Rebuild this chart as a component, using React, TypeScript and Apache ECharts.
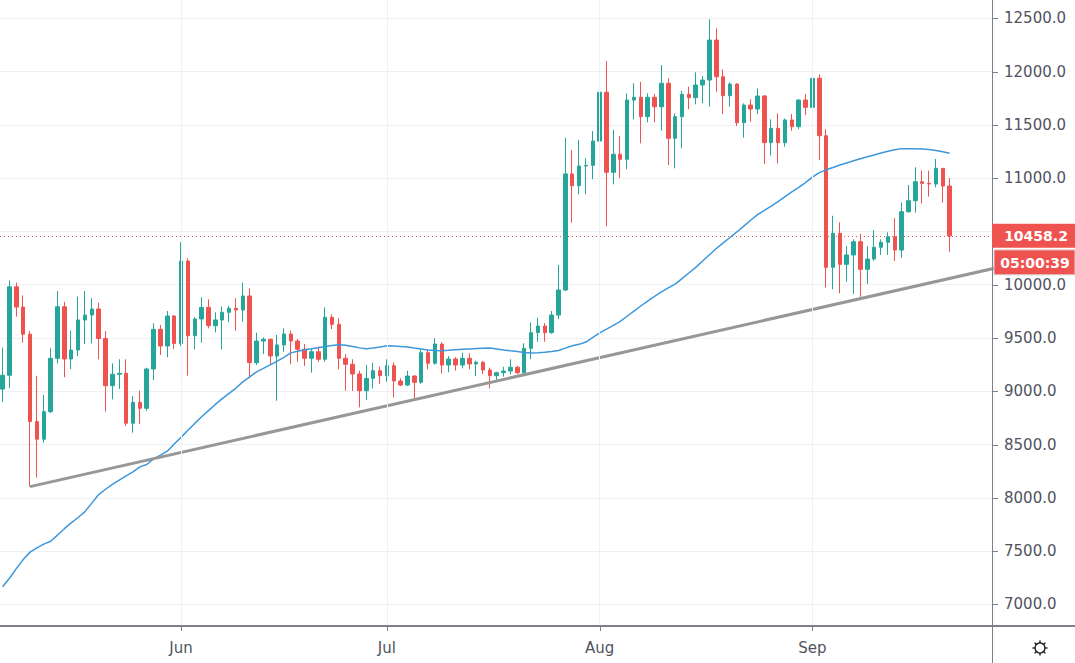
import React, { useEffect, useRef } from 'react';
import * as echarts from 'echarts';

// Daily BTC/USD candles, 6 May 2020 – 21 Sep 2020 (one entry per day).
const startDateUTC = Date.UTC(2020, 4, 6);
const firstOpen = 9020;

const closes = [
  9150, 9980, 9790, 9535, 8715, 8550, 8808, 9309, 9793, 9303,
  9387, 9669, 9715, 9772, 9495, 9052, 9159, 9168, 8700, 8896,
  8840, 9209, 9581, 9425, 9706, 9448, 10222, 9521, 9678, 9787,
  9615, 9669, 9741, 9778, 9762, 9894, 9268, 9471, 9487, 9331,
  9434, 9537, 9471, 9394, 9309, 9371, 9300, 9694, 9628, 9309,
  9253, 9162, 9005, 9121, 9193, 9146, 9240, 9096, 9058, 9143,
  9084, 9362, 9262, 9443, 9246, 9302, 9246, 9309, 9256, 9272,
  9199, 9146, 9174, 9190, 9225, 9174, 9403, 9550, 9612, 9550,
  9715, 9950, 11040, 10929, 11114, 11120, 11348, 11806, 11055, 11224,
  11177, 11733, 11759, 11577, 11759, 11670, 11890, 11374, 11577, 11787,
  11755, 11874, 11921, 12296, 11952, 11774, 11883, 11520, 11686, 11649,
  11771, 11333, 11468, 11333, 11546, 11483, 11733, 11665, 11937, 11398,
  10163, 10482, 10191, 10279, 10403, 10144, 10241, 10351, 10398, 10450,
  10325, 10685, 10788, 10966, 10951, 10945, 11092, 10926, 10458.2,
];

const lows = [
  8900, 9030, 9700, 9456, 8105, 8190, 8517, 8796, 9262, 9131,
  9209, 9330, 9443, 9450, 9300, 8808, 8924, 9021, 8674, 8611,
  8692, 8817, 9105, 9340, 9318, 9396, 9424, 9146, 9394, 9456,
  9590, 9553, 9394, 9647, 9568, 9653, 9121, 9246, 9350, 9256,
  8911, 9371, 9253, 9277, 9237, 9174, 9277, 9277, 9584, 9206,
  9005, 9002, 8849, 8918, 9027, 9068, 9090, 8943, 9050, 9050,
  8934, 9070, 9206, 9250, 9168, 9178, 9193, 9215, 9206, 9143,
  9162, 9027, 9105, 9137, 9159, 9160, 9160, 9300, 9465, 9465,
  9540, 9675, 9940, 10582, 10848, 10848, 10989, 11224, 10548, 10942,
  11000, 11083, 11552, 11327, 11524, 11524, 11445, 11123, 11092, 11280,
  11646, 11693, 11702, 11670, 11811, 11602, 11670, 11489, 11380, 11530,
  11602, 11133, 11211, 11139, 11295, 11445, 11460, 11592, 11552, 11170,
  9975, 9957, 9919, 10028, 9913, 9887, 10006, 10225, 10279, 10279,
  10222, 10253, 10676, 10676, 10764, 10826, 10914, 10770, 10309,
];

const highs = [
  9410, 10040, 10020, 9900, 9565, 9145, 8965, 9403, 9941, 9840,
  9568, 9887, 9941, 9872, 9831, 9565, 9262, 9300, 9300, 8955,
  9005, 9221, 9638, 9622, 9753, 9715, 10398, 10248, 9694, 9882,
  9863, 9741, 9793, 9800, 9872, 10019, 9966, 9549, 9506, 9495,
  9528, 9591, 9568, 9490, 9443, 9403, 9420, 9787, 9722, 9684,
  9347, 9300, 9193, 9246, 9268, 9230, 9300, 9272, 9121, 9193,
  9150, 9394, 9387, 9497, 9460, 9331, 9320, 9362, 9356, 9287,
  9284, 9221, 9184, 9230, 9300, 9240, 9450, 9645, 9690, 9640,
  9753, 10185, 11379, 11264, 11358, 11186, 11442, 11843, 12099, 11452,
  11395, 11796, 11890, 11905, 11796, 11790, 12062, 11937, 11608, 11821,
  11858, 11993, 11960, 12491, 12406, 12021, 11899, 11890, 11702, 11740,
  11843, 11780, 11552, 11608, 11560, 11602, 11740, 11790, 12068, 11974,
  11458, 10647, 10585, 10363, 10426, 10476, 10363, 10513, 10426, 10492,
  10623, 10770, 10936, 11102, 11070, 11070, 11180, 11092, 11000,
];

// 50-day simple moving average of the close
const sma50 = [
  7165, 7245, 7335, 7420, 7490, 7530, 7565, 7592, 7650, 7710,
  7765, 7815, 7870, 7950, 8030, 8080, 8125, 8165, 8205, 8243,
  8290, 8312, 8365, 8400, 8437, 8505, 8567, 8633, 8698, 8760,
  8818, 8876, 8930, 8980, 9030, 9088, 9134, 9182, 9215, 9247,
  9282, 9317, 9360, 9376, 9389, 9398, 9408, 9419, 9430, 9437,
  9431, 9420, 9407, 9398, 9405, 9415, 9427, 9424, 9419, 9415,
  9405, 9396, 9387, 9382, 9381, 9385, 9390, 9394, 9397, 9400,
  9403, 9405, 9397, 9388, 9380, 9373, 9364, 9359, 9361, 9367,
  9374, 9383, 9405, 9427, 9440, 9462, 9505, 9548, 9583, 9619,
  9656, 9704, 9752, 9800, 9845, 9891, 9933, 9970, 10006, 10057,
  10110, 10163, 10222, 10281, 10340, 10392, 10443, 10495, 10550, 10605,
  10657, 10697, 10738, 10779, 10826, 10872, 10913, 10958, 11010, 11052,
  11078, 11100, 11123, 11143, 11163, 11182, 11200, 11218, 11236, 11252,
  11267, 11277, 11277, 11275, 11273, 11268, 11260, 11248, 11233,
];

// Hand-drawn support line: [day index, price] at both ends (runs past the right edge)
const trendLine = [
  [4, 8105],
  [150, 10234],
];

const priceTicks = [7000, 7500, 8000, 8500, 9000, 9500, 10000, 10500, 11000, 11500, 12000, 12500];
const monthLabels = ['Jun', 'Jul', 'Aug', 'Sep'];
const lastPrice = 10458.2;
const barCountdown = '05:00:39';

// visible ranges of the two scales
const xMin = -0.38;
const xMax = 144.17;
const yMin = 6806;
const yMax = 12672;

const UP = '#26a69a';
const DOWN = '#ef5350';
const TEXT = '#50535e';
const FRAME = '#7d808a';
const GRID = '#eef0f3';
const FONT = 'DejaVu Sans';

const DAY_MS = 86400000;
const dates = closes.map((_, i) => new Date(startDateUTC + i * DAY_MS));
const monthStarts = dates
  .map((d, i) => (d.getUTCDate() === 1 ? i : -1))
  .filter((i) => i >= 0);

// price labels hidden under the last-price badge are skipped
const labelTicks = priceTicks.filter((t) => Math.abs(t - lastPrice) > 120);

const candles = closes.map((c, i) => [
  i,
  i === 0 ? firstOpen : closes[i - 1],
  c,
  lows[i],
  highs[i],
]);

function gearIcon(cx: number, cy: number) {
  const spokes = [];
  for (let k = 0; k < 8; k++) {
    const a = (k * Math.PI) / 4;
    spokes.push({
      type: 'line',
      shape: {
        x1: cx + Math.cos(a) * 5,
        y1: cy + Math.sin(a) * 5,
        x2: cx + Math.cos(a) * 7.5,
        y2: cy + Math.sin(a) * 7.5,
      },
      style: { stroke: '#131722', lineWidth: 1.4 },
    });
  }
  return [
    {
      type: 'circle',
      shape: { cx, cy, r: 5 },
      style: { fill: 'transparent', stroke: '#131722', lineWidth: 1.3 },
    },
    ...spokes,
  ];
}

export default function App() {
  const ref = useRef<HTMLDivElement>(null);

  useEffect(() => {
    if (!ref.current) return;
    const chart = echarts.init(ref.current, null, { renderer: 'svg' });

    chart.setOption({
      animation: false,
      backgroundColor: '#ffffff',
      textStyle: { fontFamily: FONT },
      grid: { left: 0, top: 0, width: 992, height: 625 },
      xAxis: {
        type: 'value',
        min: xMin,
        max: xMax,
        axisLine: { show: false },
        axisTick: { show: false },
        axisLabel: {
          customValues: monthStarts,
          formatter: (v: number) => monthLabels[monthStarts.indexOf(Math.round(v))] ?? '',
          color: TEXT,
          fontSize: 15,
          fontFamily: FONT,
          margin: 15,
        },
        splitLine: { show: false },
      },
      yAxis: {
        type: 'value',
        position: 'right',
        min: yMin,
        max: yMax,
        splitNumber: 12,
        axisLine: { show: false },
        axisTick: { show: false },
        axisLabel: {
          customValues: labelTicks,
          formatter: (v: number) => v.toFixed(1),
          color: TEXT,
          fontSize: 15,
          fontFamily: FONT,
          margin: 12,
        },
        splitLine: {
          show: true,
          showMinLine: false,
          showMaxLine: false,
          lineStyle: { color: GRID, width: 1 },
        },
      },
      series: [
        {
          // vertical month grid lines
          name: 'monthGrid',
          type: 'line',
          data: [],
          z: 1,
          silent: true,
          markLine: {
            silent: true,
            symbol: 'none',
            label: { show: false },
            lineStyle: { color: GRID, width: 1, type: 'solid' },
            data: monthStarts.map((i) => ({ xAxis: i })),
          },
        },
        {
          name: 'BTCUSD',
          type: 'candlestick',
          data: candles,
          barWidth: 4,
          z: 2,
          itemStyle: {
            color: UP,
            color0: DOWN,
            borderColor: UP,
            borderColor0: DOWN,
            borderWidth: 1,
          },
          markLine: {
            silent: true,
            symbol: 'none',
            label: { show: false },
            lineStyle: { color: '#d05a55', width: 1, type: [1, 3] },
            data: [{ yAxis: lastPrice }],
          },
        },
        {
          name: 'MA 50',
          type: 'line',
          data: sma50.map((v, i) => [i, v]),
          showSymbol: false,
          z: 3,
          lineStyle: { color: '#3d97da', width: 1.5 },
        },
        {
          name: 'Trend',
          type: 'line',
          data: trendLine,
          showSymbol: false,
          z: 4,
          lineStyle: { color: '#979797', width: 3 },
        },
      ],
    });

    const yPx = chart.convertToPixel({ yAxisIndex: 0 }, lastPrice) as number;

    // short tick marks outside the price scale and under the time scale
    const priceTickMarks = priceTicks.map((t) => {
      const y = Math.round(chart.convertToPixel({ yAxisIndex: 0 }, t) as number) + 0.5;
      return {
        type: 'line',
        shape: { x1: 993, y1: y, x2: 998, y2: y },
        style: { stroke: FRAME, lineWidth: 1 },
        z: 50,
      };
    });
    const monthTickMarks = monthStarts.map((i) => {
      const x = Math.round(chart.convertToPixel({ xAxisIndex: 0 }, i) as number) + 0.5;
      return {
        type: 'line',
        shape: { x1: x, y1: 627, x2: x, y2: 631 },
        style: { stroke: FRAME, lineWidth: 1 },
        z: 50,
      };
    });

    chart.setOption({
      graphic: [
        {
          type: 'line',
          shape: { x1: 992.5, y1: 0, x2: 992.5, y2: 663 },
          style: { stroke: FRAME, lineWidth: 1 },
          z: 50,
        },
        {
          type: 'line',
          shape: { x1: 0, y1: 626, x2: 1075, y2: 626 },
          style: { stroke: FRAME, lineWidth: 2 },
          z: 50,
        },
        ...priceTickMarks,
        ...monthTickMarks,
        {
          type: 'rect',
          shape: { x: 992, y: yPx - 12, width: 83, height: 24 },
          style: { fill: DOWN },
          z: 60,
        },
        {
          type: 'text',
          x: 1036,
          y: yPx,
          style: {
            text: lastPrice.toFixed(1),
            fill: '#ffffff',
            font: `bold 14px ${FONT}`,
            align: 'center',
            verticalAlign: 'middle',
            textAlign: 'center',
            textVerticalAlign: 'middle',
          },
          z: 61,
        },
        {
          type: 'rect',
          shape: { x: 994, y: yPx + 14, width: 81, height: 25 },
          style: { fill: DOWN, stroke: '#d8d8d8', lineWidth: 1 },
          z: 60,
        },
        {
          type: 'text',
          x: 1035,
          y: yPx + 27,
          style: {
            text: barCountdown,
            fill: '#ffffff',
            font: `bold 14px ${FONT}`,
            align: 'center',
            verticalAlign: 'middle',
            textAlign: 'center',
            textVerticalAlign: 'middle',
          },
          z: 61,
        },
        {
          type: 'group',
          children: gearIcon(1040, 648),
          z: 60,
        },
      ],
    });

    return () => chart.dispose();
  }, []);

  return (
    <div
      ref={ref}
      style={{
        position: 'fixed',
        left: 0,
        top: 0,
        width: 1075,
        height: 663,
        background: '#ffffff',
      }}
    />
  );
}
